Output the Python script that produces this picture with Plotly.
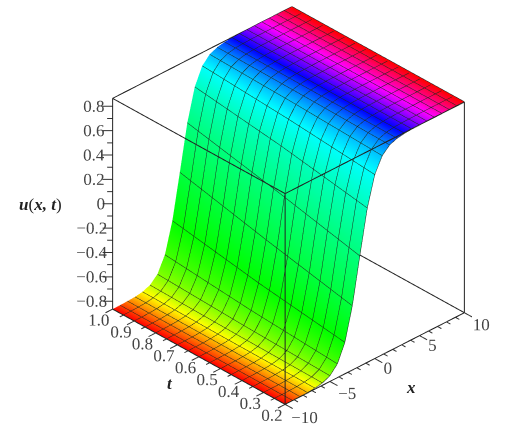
import plotly.graph_objects as go

x_values = [-10, -9.167, -8.333, -7.5, -6.667, -5.833, -5, -4.167, -3.333, -2.5, -1.667, -0.833, 0,
            0.833, 1.667, 2.5, 3.333, 4.167, 5, 5.833, 6.667, 7.5, 8.333, 9.167, 10]
t_values = [0.2, 0.6, 1.0]
u_t02 = [-0.865, -0.8645, -0.864, -0.862, -0.857, -0.846, -0.818, -0.752, -0.607, -0.338, 0.040, 0.402, 0.645,
         0.769, 0.826, 0.849, 0.859, 0.862, 0.864, 0.8646, 0.865, 0.865, 0.865, 0.865, 0.865]
u_t06 = [-0.8647, -0.864, -0.863, -0.860, -0.854, -0.837, -0.796, -0.704, -0.510, -0.187, 0.202, 0.521, 0.709,
         0.799, 0.838, 0.854, 0.861, 0.863, 0.864, 0.865, 0.865, 0.865, 0.865, 0.865, 0.865]
u_t10 = [-0.8646, -0.864, -0.862, -0.858, -0.848, -0.824, -0.766, -0.638, -0.390, -0.024, 0.351, 0.615, 0.756,
         0.819, 0.846, 0.858, 0.862, 0.864, 0.8646, 0.865, 0.865, 0.865, 0.865, 0.865, 0.865]

x_range = [-10, 10]
t_range = [0.2, 1.0]
u_range = [-0.865, 0.865]

x_ticks = [-10, -9, -8, -7, -6, -5, -4, -3, -2, -1, 0, 1, 2, 3, 4, 5, 6, 7, 8, 9, 10]
x_labels = ["\u221210", "", "", "", "", "\u22125", "", "", "", "", "0", "", "", "", "", "5", "", "", "", "", "10"]
t_ticks = [0.2, 0.25, 0.3, 0.35, 0.4, 0.45, 0.5, 0.55, 0.6, 0.65, 0.7, 0.75, 0.8, 0.85, 0.9, 0.95, 1.0]
t_labels = ["0.2", "", "0.3", "", "0.4", "", "0.5", "", "0.6", "", "0.7", "", "0.8", "", "0.9", "", "1.0"]
u_ticks = [-0.8, -0.7, -0.6, -0.5, -0.4, -0.3, -0.2, -0.1, 0, 0.1, 0.2, 0.3, 0.4, 0.5, 0.6, 0.7, 0.8]
u_labels = ["\u22120.8", "", "\u22120.6", "", "\u22120.4", "", "\u22120.2", "", "0", "", "0.2", "", "0.4", "", "0.6", "", "0.8"]

HUE = [[0, "#ff0000"], [1/6, "#ffff00"], [1/3, "#00ff00"], [1/2, "#00ffff"],
       [2/3, "#0000ff"], [5/6, "#ff00ff"], [1, "#ff0000"]]

u_grid = [u_t02, u_t06, u_t10]
fig = go.Figure()
LINE = "#1e2a1e"
fig.add_trace(go.Surface(
    x=x_values, y=t_values, z=u_grid,
    surfacecolor=[x_values for _ in t_values],
    colorscale=HUE, cmin=x_range[0], cmax=x_range[1], showscale=False, hoverinfo="skip",
    lighting=dict(ambient=1, diffuse=0, specular=0, roughness=1, fresnel=0),
    contours=dict(
        x=dict(show=True, start=x_range[0], end=x_range[1], size=(x_range[1]-x_range[0])/24, color=LINE, width=2, highlight=False),
        y=dict(show=True, start=t_range[0], end=t_range[1], size=(t_range[1]-t_range[0])/16, color=LINE, width=2, highlight=False),
        z=dict(show=False, highlight=False),
    ),
))

xa, xb = x_range
ta, tb = t_range
ua, ub = u_range
def lines(segments, color, width):
    ex, et, eu = [], [], []
    for p, q in segments:
        ex += [p[0], q[0], None]
        et += [p[1], q[1], None]
        eu += [p[2], q[2], None]
    fig.add_trace(go.Scatter3d(x=ex, y=et, z=eu, mode="lines", line=dict(color=color, width=width),
                               showlegend=False, hoverinfo="skip"))
lines([((xa,ta,ua),(xb,ta,ua)), ((xa,ta,ua),(xa,tb,ua)), ((xb,ta,ua),(xb,tb,ua)),
       ((xa,ta,ub),(xb,ta,ub)), ((xa,ta,ub),(xa,tb,ub)), ((xb,ta,ub),(xb,tb,ub)),
       ((xa,tb,ub),(xb,tb,ub)),
       ((xa,ta,ua),(xa,ta,ub)), ((xb,ta,ua),(xb,ta,ub)), ((xa,tb,ua),(xa,tb,ub))], "#222222", 2)

# tick segments and their labels, placed through the scene's scales
tick_segments = []
for v, lab in zip(x_ticks, x_labels):
    d = 0.035 if lab else 0.018
    tick_segments.append(((v, ta, ua), (v, ta - d, ua)))
for v, lab in zip(t_ticks, t_labels):
    d = 0.8 if lab else 0.4
    tick_segments.append(((xa, v, ua), (xa - d, v, ua)))
for v, lab in zip(u_ticks, u_labels):
    f = 1.0 if lab else 0.55
    tick_segments.append(((xa, tb, v), (xa - 0.58*f, tb + 0.022*f, v)))
lines(tick_segments, "#333333", 2)

tickfont = dict(family="Liberation Serif", size=17, color="#444444")
def labels(xs, ts, us, texts):
    fig.add_trace(go.Scatter3d(x=xs, y=ts, z=us, text=texts, mode="text", textposition="middle center", textfont=tickfont,
                               showlegend=False, hoverinfo="skip"))
xm = [(v, l) for v, l in zip(x_ticks, x_labels) if l]
tm = [(v, l) for v, l in zip(t_ticks, t_labels) if l]
um = [(v, l) for v, l in zip(u_ticks, u_labels) if l]
x_gap = {1: 0.06, 2: 0.08, 3: 0.09}
u_gap = {1: 12, 3: 19, 4: 21}
labels([v for v, _ in xm], [ta - x_gap[len(l)] for _, l in xm], [ua - 0.02]*len(xm), [l for _, l in xm])
labels([xa - 1.5]*len(tm), [v for v, _ in tm], [ua - 0.033]*len(tm), [l for _, l in tm])
labels([xa - 0.0576*u_gap[len(l)] for _, l in um], [tb + 0.00222*u_gap[len(l)] for _, l in um],
       [v for v, _ in um], [l for _, l in um])

x_view = [-12, 12]
t_view = [0.1, 1.1]
u_view = [-0.96, 0.96]
def axis(rng):
    return dict(range=rng, title=dict(text=""), showticklabels=False, ticks="",
                showgrid=False, zeroline=False, showline=False, showbackground=False,
                showspikes=False, autorange=False)

eye_dir = dict(x=-0.587, y=-0.610, z=0.531)
scale = 1.6
side = 1.168
center = dict(x=-0.0129, y=-0.0134, z=-0.0297)
def place(px, py):
    return dict(x=px/515, y=1-py/426, xref="paper", yref="paper", xanchor="center", yanchor="middle", showarrow=False)
labelfont = dict(family="Liberation Serif", size=17, color="#222222")
fig.update_layout(
    width=515, height=426, autosize=False, margin=dict(l=0, r=0, t=0, b=0),
    paper_bgcolor="white", showlegend=False,
    scene=dict(
        domain=dict(x=[0.12, 1.0], y=[0.0, 1.0]),
        xaxis=axis(x_view),
        yaxis=axis(t_view),
        zaxis=axis(u_view),
        aspectmode="manual",
        aspectratio=dict(x=side*(x_view[1]-x_view[0])/(xb-xa), y=side*(t_view[1]-t_view[0])/(tb-ta),
                         z=side*(u_view[1]-u_view[0])/(ub-ua)),
        camera=dict(eye=dict(x=eye_dir["x"]*scale+center["x"], y=eye_dir["y"]*scale+center["y"], z=eye_dir["z"]*scale+center["z"]),
                    center=center, up=dict(x=0, y=0, z=1),
                    projection=dict(type="orthographic")),
    ),
    annotations=[
        dict(text="<b><i>u</i></b>(<b><i>x, t</i></b>)", font=labelfont, **place(40, 204)),
        dict(text="<b><i>t</i></b>", font=labelfont, **place(170, 383)),
        dict(text="<b><i>x</i></b>", font=labelfont, **place(411, 387)),
    ],
)
fig.write_html("out.html", config=dict(displayModeBar=False),
               post_script="document.body.style.margin='0';window.dispatchEvent(new Event('resize'));")
